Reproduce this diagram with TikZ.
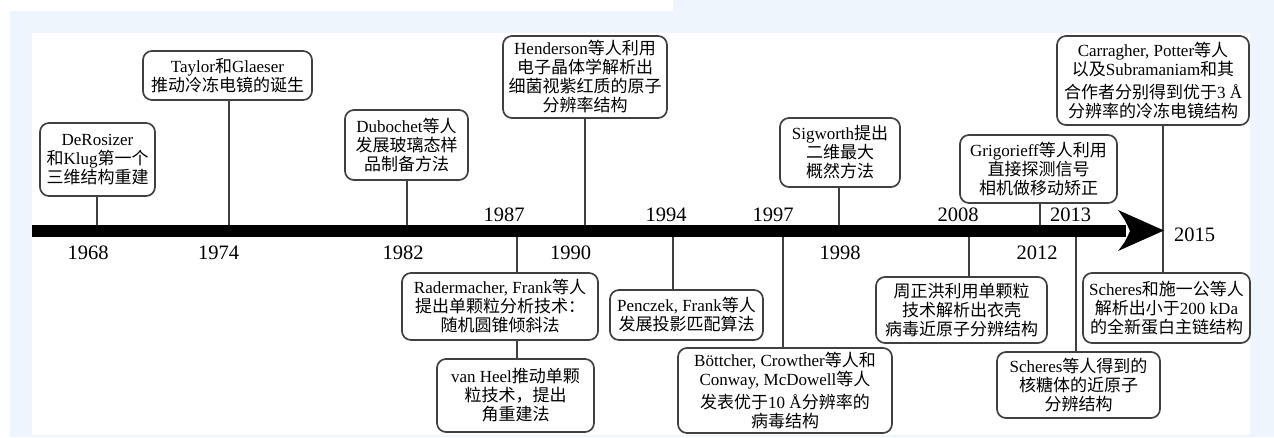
\documentclass[tikz,border=0pt]{standalone}
\usepackage{fontspec}
\setmainfont{Liberation Serif}
\newfontfamily\zhfont[Scale=1.0]{Noto Sans CJK SC}
\newcommand\zt[1]{{\zhfont #1}}
\definecolor{bgblue}{RGB}{238,245,253}
\definecolor{edge}{RGB}{64,64,64}
\begin{document}
\begin{tikzpicture}[x=1pt,y=-1pt,
  box/.style={draw=edge,line width=1.7pt,fill=white,rounded corners=9pt,
    align=center,inner sep=0pt,font=\fontsize{17}{19}\selectfont},
  tick/.style={draw=edge,line width=1.5pt},
  year/.style={inner sep=0pt,font=\fontsize{20.5}{22}\selectfont}]
\useasboundingbox (0,0) rectangle (1274,437);
% background
\fill[white] (0,0) rectangle (1274,437);
\fill[bgblue] (10,11) rectangle (1274,437);
\fill[bgblue] (673,0) rectangle (1274,11);
\fill[white] (32,33) rectangle (1250,435);

% tick coordinates on the bar
\coordinate (y1968) at (97,231);
\coordinate (y1974) at (229,231);
\coordinate (y1982) at (407,231);
\coordinate (y1987) at (517,231);
\coordinate (y1990) at (585,231);
\coordinate (y1994) at (673,231);
\coordinate (y1997) at (783,231);
\coordinate (y1998) at (839,231);
\coordinate (y2008) at (969,231);
\coordinate (y2012) at (1040,231);
\coordinate (y2013) at (1076,231);
\coordinate (y2015) at (1163,231);

% boxes above
\node[box,minimum width=115pt,minimum height=73pt] (b1968) at (97.5,159.5)
  {DeRosizer\\\zt{和}Klug\zt{第一个}\\\zt{三维结构重建}};
\node[box,minimum width=169pt,minimum height=49pt] (b1974) at (227.5,75.5)
  {Taylor\zt{和}Glaeser\\\zt{推动冷冻电镜的诞生}};
\node[box,minimum width=123pt,minimum height=70pt] (b1982) at (406.5,145)
  {Dubochet\zt{等人}\\\zt{发展玻璃态样}\\\zt{品制备方法}};
\node[box,minimum width=164pt,minimum height=82pt] (b1990) at (585,77)
  {Henderson\zt{等人利用}\\\zt{电子晶体学解析出}\\\zt{细菌视紫红质的原子}\\\zt{分辨率结构}};
\node[box,minimum width=120pt,minimum height=69pt] (b1998) at (840,152.5)
  {Sigworth\zt{提出}\\\zt{二维最大}\\\zt{概然方法}};
\node[box,minimum width=157pt,minimum height=68pt] (b2012) at (1038.5,169)
  {Grigorieff\zt{等人利用}\\\zt{直接探测信号}\\\zt{相机做移动矫正}};
\node[box,minimum width=192pt,minimum height=89pt] (b2015a) at (1153,80.5)
  {Carragher, Potter\zt{等人}\\\zt{以及}Subramaniam\zt{和其}\\[4pt]\zt{合作者分别得到优于}3 Å\\\zt{分辨率的冷冻电镜结构}};
% boxes below
\node[box,minimum width=196pt,minimum height=67pt] (b1987) at (500,306.5)
  {Radermacher, Frank\zt{等人}\\\zt{提出单颗粒分析技术：}\\\zt{随机圆锥倾斜法}};
\node[box,minimum width=157pt,minimum height=73pt] (bvh) at (515.5,395.5)
  {van Heel\zt{推动单颗}\\\zt{粒技术，提出}\\\zt{角重建法}};
\node[box,minimum width=153pt,minimum height=50pt] (b1994) at (686.5,315)
  {Penczek, Frank\zt{等人}\\\zt{发展投影匹配算法}};
\node[box,minimum width=214pt,minimum height=85pt] (b1997) at (785,390.5)
  {Böttcher, Crowther\zt{等人和}\\Conway, McDowell\zt{等人}\\[4pt]\zt{发表优于}10 Å\zt{分辨率的}\\\zt{病毒结构}};
\node[box,minimum width=171pt,minimum height=66pt] (b2008) at (961.5,310)
  {\zt{周正洪利用单颗粒}\\\zt{技术解析出衣壳}\\\zt{病毒近原子分辨结构}};
\node[box,minimum width=163pt,minimum height=66pt] (b2013) at (1078.5,385)
  {Scheres\zt{等人得到的}\\\zt{核糖体的近原子}\\\zt{分辨结构}};
\node[box,minimum width=167pt,minimum height=70pt] (b2015b) at (1166.5,308)
  {Scheres\zt{和施一公等人}\\\zt{解析出小于}200 kDa\\\zt{的全新蛋白主链结构}};

% connectors
\draw[tick] (y1968) -- (y1968 |- b1968.south);
\draw[tick] (y1974) -- (y1974 |- b1974.south);
\draw[tick] (y1982) -- (y1982 |- b1982.south);
\draw[tick] (y1987) -- (y1987 |- b1987.north);
\draw[tick] (y1987 |- b1987.south) -- (y1987 |- bvh.north);
\draw[tick] (y1990) -- (y1990 |- b1990.south);
\draw[tick] (y1994) -- (y1994 |- b1994.north);
\draw[tick] (y1997) -- (y1997 |- b1997.north);
\draw[tick] (y1998) -- (y1998 |- b1998.south);
\draw[tick] (y2008) -- (y2008 |- b2008.north);
\draw[tick] (y2012) -- (y2012 |- b2012.south);
\draw[tick] (y2013) -- (y2013 |- b2013.north);
\draw[tick] (y2015 |- b2015a.south) -- (y2015 |- b2015b.north);

% timeline bar and arrowhead
\fill[black] (32,225) rectangle (1126,237);
\fill[black] (1118,210) -- (1164,230.5) -- (1118,251)
  .. controls (1125,242) .. (1130,231) .. controls (1125,220) .. (1118,210) -- cycle;

% year labels
\node[year] (l1968) at (88,253) {1968};
\node[year] (l1974) at (218.5,253) {1974};
\node[year] (l1982) at (403,253) {1982};
\node[year] (l1990) at (570.5,253) {1990};
\node[year] (l1998) at (840,253) {1998};
\node[year] (l2012) at (1037,253) {2012};
\node[year] (l1987) at (504,215) {1987};
\node[year] (l1994) at (666,215) {1994};
\node[year] (l1997) at (773,215) {1997};
\node[year] (l2008) at (958,215) {2008};
\node[year] (l2013) at (1070.5,215) {2013};
\node[year] (l2015) at (1194.5,234.5) {2015};
\end{tikzpicture}
\end{document}
